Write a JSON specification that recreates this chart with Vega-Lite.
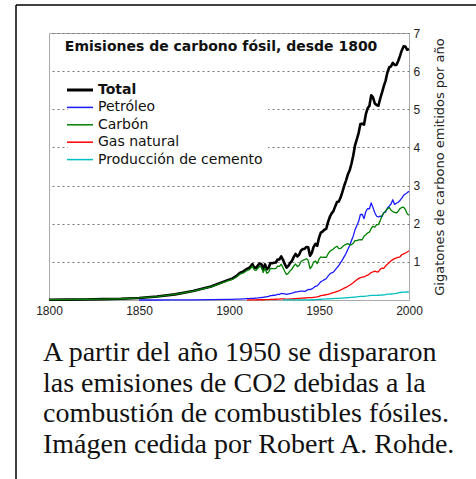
{
  "$schema": "https://vega.github.io/schema/vega-lite/v6.json",
  "width": 360,
  "height": 267,
  "autosize": {"type": "none"},
  "padding": {"left": 49, "top": 33, "right": 67, "bottom": 179},
  "background": "white",
  "config": {
    "view": {"stroke": "#aaaaaa", "strokeWidth": 1},
    "font": "DejaVu Sans"
  },
  "data": {"values": [
    {"year":1800,"Total":0.008,"Petróleo":null,"Carbón":0.008,"Gas natural":null,"Producción de cemento":null},
    {"year":1810,"Total":0.010,"Petróleo":null,"Carbón":0.010,"Gas natural":null,"Producción de cemento":null},
    {"year":1820,"Total":0.014,"Petróleo":null,"Carbón":0.014,"Gas natural":null,"Producción de cemento":null},
    {"year":1830,"Total":0.024,"Petróleo":null,"Carbón":0.024,"Gas natural":null,"Producción de cemento":null},
    {"year":1840,"Total":0.033,"Petróleo":null,"Carbón":0.033,"Gas natural":null,"Producción de cemento":null},
    {"year":1850,"Total":0.054,"Petróleo":0,"Carbón":0.054,"Gas natural":null,"Producción de cemento":null},
    {"year":1860,"Total":0.091,"Petróleo":0,"Carbón":0.091,"Gas natural":null,"Producción de cemento":null},
    {"year":1870,"Total":0.147,"Petróleo":0.001,"Carbón":0.146,"Gas natural":null,"Producción de cemento":null},
    {"year":1880,"Total":0.236,"Petróleo":0.003,"Carbón":0.233,"Gas natural":null,"Producción de cemento":null},
    {"year":1890,"Total":0.356,"Petróleo":0.009,"Carbón":0.345,"Gas natural":null,"Producción de cemento":null},
    {"year":1900,"Total":0.534,"Petróleo":0.016,"Carbón":0.515,"Gas natural":null,"Producción de cemento":null},
    {"year":1902,"Total":0.566,"Petróleo":0.019,"Carbón":0.543,"Gas natural":null,"Producción de cemento":null},
    {"year":1904,"Total":0.624,"Petróleo":0.023,"Carbón":0.596,"Gas natural":null,"Producción de cemento":null},
    {"year":1906,"Total":0.707,"Petróleo":0.025,"Carbón":0.676,"Gas natural":null,"Producción de cemento":null},
    {"year":1908,"Total":0.750,"Petróleo":0.032,"Carbón":0.711,"Gas natural":null,"Producción de cemento":null},
    {"year":1910,"Total":0.819,"Petróleo":0.036,"Carbón":0.775,"Gas natural":0.003,"Producción de cemento":null},
    {"year":1911,"Total":0.836,"Petróleo":0.038,"Carbón":0.789,"Gas natural":0.004,"Producción de cemento":null},
    {"year":1912,"Total":0.879,"Petróleo":0.041,"Carbón":0.828,"Gas natural":0.004,"Producción de cemento":null},
    {"year":1913,"Total":0.943,"Petróleo":0.045,"Carbón":0.886,"Gas natural":0.005,"Producción de cemento":null},
    {"year":1914,"Total":0.850,"Petróleo":0.046,"Carbón":0.792,"Gas natural":0.005,"Producción de cemento":null},
    {"year":1915,"Total":0.838,"Petróleo":0.050,"Carbón":0.776,"Gas natural":0.005,"Producción de cemento":null},
    {"year":1916,"Total":0.901,"Petróleo":0.055,"Carbón":0.833,"Gas natural":0.006,"Producción de cemento":null},
    {"year":1917,"Total":0.955,"Petróleo":0.062,"Carbón":0.879,"Gas natural":0.006,"Producción de cemento":null},
    {"year":1918,"Total":0.936,"Petróleo":0.065,"Carbón":0.857,"Gas natural":0.007,"Producción de cemento":null},
    {"year":1919,"Total":0.806,"Petróleo":0.070,"Carbón":0.722,"Gas natural":0.007,"Producción de cemento":null},
    {"year":1920,"Total":0.932,"Petróleo":0.082,"Carbón":0.832,"Gas natural":0.009,"Producción de cemento":null},
    {"year":1921,"Total":0.803,"Petróleo":0.085,"Carbón":0.700,"Gas natural":0.010,"Producción de cemento":null},
    {"year":1922,"Total":0.845,"Petróleo":0.095,"Carbón":0.731,"Gas natural":0.011,"Producción de cemento":null},
    {"year":1923,"Total":0.970,"Petróleo":0.115,"Carbón":0.831,"Gas natural":0.014,"Producción de cemento":null},
    {"year":1924,"Total":0.963,"Petróleo":0.118,"Carbón":0.820,"Gas natural":0.016,"Producción de cemento":null},
    {"year":1925,"Total":0.975,"Petróleo":0.125,"Carbón":0.824,"Gas natural":0.018,"Producción de cemento":null},
    {"year":1926,"Total":0.983,"Petróleo":0.130,"Carbón":0.825,"Gas natural":0.020,"Producción de cemento":null},
    {"year":1927,"Total":1.062,"Petróleo":0.145,"Carbón":0.887,"Gas natural":0.022,"Producción de cemento":null},
    {"year":1928,"Total":1.065,"Petróleo":0.150,"Carbón":0.882,"Gas natural":0.025,"Producción de cemento":null},
    {"year":1929,"Total":1.145,"Petróleo":0.170,"Carbón":0.936,"Gas natural":0.030,"Producción de cemento":null},
    {"year":1930,"Total":1.053,"Petróleo":0.165,"Carbón":0.848,"Gas natural":0.031,"Producción de cemento":0.002},
    {"year":1931,"Total":0.940,"Petróleo":0.160,"Carbón":0.747,"Gas natural":0.027,"Producción de cemento":0.002},
    {"year":1932,"Total":0.847,"Petróleo":0.150,"Carbón":0.667,"Gas natural":0.025,"Producción de cemento":0.002},
    {"year":1933,"Total":0.893,"Petróleo":0.160,"Carbón":0.702,"Gas natural":0.025,"Producción de cemento":0.002},
    {"year":1934,"Total":0.973,"Petróleo":0.170,"Carbón":0.770,"Gas natural":0.027,"Producción de cemento":0.003},
    {"year":1935,"Total":1.027,"Petróleo":0.180,"Carbón":0.810,"Gas natural":0.029,"Producción de cemento":0.003},
    {"year":1936,"Total":1.130,"Petróleo":0.195,"Carbón":0.893,"Gas natural":0.033,"Producción de cemento":0.004},
    {"year":1937,"Total":1.209,"Petróleo":0.215,"Carbón":0.944,"Gas natural":0.038,"Producción de cemento":0.004},
    {"year":1938,"Total":1.142,"Petróleo":0.215,"Carbón":0.875,"Gas natural":0.040,"Producción de cemento":0.005},
    {"year":1939,"Total":1.192,"Petróleo":0.225,"Carbón":0.913,"Gas natural":0.043,"Producción de cemento":0.005},
    {"year":1940,"Total":1.299,"Petróleo":0.230,"Carbón":1.011,"Gas natural":0.047,"Producción de cemento":0.005},
    {"year":1941,"Total":1.334,"Petróleo":0.235,"Carbón":1.039,"Gas natural":0.050,"Producción de cemento":0.005},
    {"year":1942,"Total":1.342,"Petróleo":0.225,"Carbón":1.056,"Gas natural":0.053,"Producción de cemento":0.005},
    {"year":1943,"Total":1.391,"Petróleo":0.245,"Carbón":1.082,"Gas natural":0.056,"Producción de cemento":0.004},
    {"year":1944,"Total":1.383,"Petróleo":0.275,"Carbón":1.041,"Gas natural":0.061,"Producción de cemento":0.004},
    {"year":1945,"Total":1.160,"Petróleo":0.270,"Carbón":0.821,"Gas natural":0.063,"Producción de cemento":0.004},
    {"year":1946,"Total":1.238,"Petróleo":0.290,"Carbón":0.878,"Gas natural":0.064,"Producción de cemento":0.006},
    {"year":1947,"Total":1.392,"Petróleo":0.320,"Carbón":0.993,"Gas natural":0.071,"Producción de cemento":0.008},
    {"year":1948,"Total":1.469,"Petróleo":0.360,"Carbón":1.023,"Gas natural":0.077,"Producción de cemento":0.009},
    {"year":1949,"Total":1.419,"Petróleo":0.370,"Carbón":0.954,"Gas natural":0.083,"Producción de cemento":0.010},
    {"year":1950,"Total":1.630,"Petróleo":0.423,"Carbón":1.070,"Gas natural":0.097,"Producción de cemento":0.018},
    {"year":1951,"Total":1.767,"Petróleo":0.479,"Carbón":1.129,"Gas natural":0.115,"Producción de cemento":0.020},
    {"year":1952,"Total":1.795,"Petróleo":0.504,"Carbón":1.119,"Gas natural":0.124,"Producción de cemento":0.022},
    {"year":1953,"Total":1.841,"Petróleo":0.533,"Carbón":1.125,"Gas natural":0.131,"Producción de cemento":0.024},
    {"year":1954,"Total":1.865,"Petróleo":0.557,"Carbón":1.116,"Gas natural":0.138,"Producción de cemento":0.027},
    {"year":1955,"Total":2.042,"Petróleo":0.625,"Carbón":1.208,"Gas natural":0.150,"Producción de cemento":0.030},
    {"year":1956,"Total":2.177,"Petróleo":0.679,"Carbón":1.273,"Gas natural":0.161,"Producción de cemento":0.032},
    {"year":1957,"Total":2.270,"Petróleo":0.714,"Carbón":1.309,"Gas natural":0.178,"Producción de cemento":0.034},
    {"year":1958,"Total":2.330,"Petróleo":0.731,"Carbón":1.336,"Gas natural":0.192,"Producción de cemento":0.036},
    {"year":1959,"Total":2.454,"Petróleo":0.789,"Carbón":1.382,"Gas natural":0.206,"Producción de cemento":0.040},
    {"year":1960,"Total":2.569,"Petróleo":0.849,"Carbón":1.410,"Gas natural":0.227,"Producción de cemento":0.043},
    {"year":1961,"Total":2.580,"Petróleo":0.904,"Carbón":1.349,"Gas natural":0.240,"Producción de cemento":0.045},
    {"year":1962,"Total":2.686,"Petróleo":0.980,"Carbón":1.351,"Gas natural":0.263,"Producción de cemento":0.049},
    {"year":1963,"Total":2.833,"Petróleo":1.052,"Carbón":1.396,"Gas natural":0.286,"Producción de cemento":0.051},
    {"year":1964,"Total":2.995,"Petróleo":1.137,"Carbón":1.435,"Gas natural":0.311,"Producción de cemento":0.057},
    {"year":1965,"Total":3.130,"Petróleo":1.219,"Carbón":1.460,"Gas natural":0.331,"Producción de cemento":0.059},
    {"year":1966,"Total":3.288,"Petróleo":1.323,"Carbón":1.478,"Gas natural":0.361,"Producción de cemento":0.063},
    {"year":1967,"Total":3.393,"Petróleo":1.423,"Carbón":1.448,"Gas natural":0.385,"Producción de cemento":0.065},
    {"year":1968,"Total":3.566,"Petróleo":1.551,"Carbón":1.448,"Gas natural":0.419,"Producción de cemento":0.070},
    {"year":1969,"Total":3.780,"Petróleo":1.673,"Carbón":1.486,"Gas natural":0.455,"Producción de cemento":0.074},
    {"year":1970,"Total":4.053,"Petróleo":1.839,"Carbón":1.556,"Gas natural":0.493,"Producción de cemento":0.078},
    {"year":1971,"Total":4.208,"Petróleo":1.947,"Carbón":1.559,"Gas natural":0.530,"Producción de cemento":0.084},
    {"year":1972,"Total":4.376,"Petróleo":2.057,"Carbón":1.576,"Gas natural":0.560,"Producción de cemento":0.089},
    {"year":1973,"Total":4.614,"Petróleo":2.241,"Carbón":1.581,"Gas natural":0.588,"Producción de cemento":0.095},
    {"year":1974,"Total":4.623,"Petróleo":2.245,"Carbón":1.579,"Gas natural":0.597,"Producción de cemento":0.096},
    {"year":1975,"Total":4.596,"Petróleo":2.132,"Carbón":1.673,"Gas natural":0.604,"Producción de cemento":0.095},
    {"year":1976,"Total":4.864,"Petróleo":2.314,"Carbón":1.710,"Gas natural":0.630,"Producción de cemento":0.103},
    {"year":1977,"Total":5.026,"Petróleo":2.398,"Carbón":1.756,"Gas natural":0.650,"Producción de cemento":0.108},
    {"year":1978,"Total":5.087,"Petróleo":2.392,"Carbón":1.780,"Gas natural":0.680,"Producción de cemento":0.116},
    {"year":1979,"Total":5.369,"Petróleo":2.544,"Carbón":1.875,"Gas natural":0.721,"Producción de cemento":0.119},
    {"year":1980,"Total":5.315,"Petróleo":2.422,"Carbón":1.935,"Gas natural":0.737,"Producción de cemento":0.120},
    {"year":1981,"Total":5.152,"Petróleo":2.289,"Carbón":1.908,"Gas natural":0.755,"Producción de cemento":0.121},
    {"year":1982,"Total":5.113,"Petróleo":2.196,"Carbón":1.976,"Gas natural":0.738,"Producción de cemento":0.121},
    {"year":1983,"Total":5.094,"Petróleo":2.176,"Carbón":1.977,"Gas natural":0.739,"Producción de cemento":0.125},
    {"year":1984,"Total":5.280,"Petróleo":2.199,"Carbón":2.074,"Gas natural":0.807,"Producción de cemento":0.128},
    {"year":1985,"Total":5.439,"Petróleo":2.186,"Carbón":2.216,"Gas natural":0.835,"Producción de cemento":0.131},
    {"year":1986,"Total":5.607,"Petróleo":2.293,"Carbón":2.277,"Gas natural":0.830,"Producción de cemento":0.137},
    {"year":1987,"Total":5.752,"Petróleo":2.306,"Carbón":2.339,"Gas natural":0.892,"Producción de cemento":0.143},
    {"year":1988,"Total":5.965,"Petróleo":2.412,"Carbón":2.387,"Gas natural":0.935,"Producción de cemento":0.152},
    {"year":1989,"Total":6.097,"Petróleo":2.459,"Carbón":2.428,"Gas natural":0.982,"Producción de cemento":0.156},
    {"year":1990,"Total":6.127,"Petróleo":2.517,"Carbón":2.356,"Gas natural":1.026,"Producción de cemento":0.157},
    {"year":1991,"Total":6.217,"Petróleo":2.627,"Carbón":2.317,"Gas natural":1.058,"Producción de cemento":0.161},
    {"year":1992,"Total":6.164,"Petróleo":2.506,"Carbón":2.300,"Gas natural":1.083,"Producción de cemento":0.167},
    {"year":1993,"Total":6.162,"Petróleo":2.537,"Carbón":2.282,"Gas natural":1.102,"Producción de cemento":0.176},
    {"year":1994,"Total":6.266,"Petróleo":2.562,"Carbón":2.329,"Gas natural":1.119,"Producción de cemento":0.186},
    {"year":1995,"Total":6.398,"Petróleo":2.609,"Carbón":2.396,"Gas natural":1.133,"Producción de cemento":0.197},
    {"year":1996,"Total":6.542,"Petróleo":2.673,"Carbón":2.426,"Gas natural":1.186,"Producción de cemento":0.203},
    {"year":1997,"Total":6.651,"Petróleo":2.744,"Carbón":2.437,"Gas natural":1.211,"Producción de cemento":0.205},
    {"year":1998,"Total":6.643,"Petróleo":2.779,"Carbón":2.371,"Gas natural":1.233,"Producción de cemento":0.205},
    {"year":1999,"Total":6.560,"Petróleo":2.810,"Carbón":2.260,"Gas natural":1.260,"Producción de cemento":0.210},
    {"year":2000,"Total":6.580,"Petróleo":2.850,"Carbón":2.220,"Gas natural":1.290,"Producción de cemento":0.215}
  ]},
  "layer": [
    {
      "transform": [{"fold": ["Total", "Petróleo", "Carbón", "Gas natural", "Producción de cemento"], "as": ["series", "value"]}],
      "mark": {"type": "line", "strokeJoin": "round", "strokeCap": "butt"},
      "encoding": {
        "x": {
          "field": "year", "type": "quantitative",
          "scale": {"domain": [1800, 2000], "nice": false, "zero": false},
          "axis": {
            "orient": "bottom", "values": [1800, 1850, 1900, 1950, 2000], "format": "d",
            "title": null, "grid": false, "ticks": false, "domain": false,
            "labelFont": "Liberation Sans", "labelFontSize": 12, "labelColor": "#222222",
            "labelPadding": 5, "labelFlush": false
          }
        },
        "y": {
          "field": "value", "type": "quantitative",
          "scale": {"domain": [0, 7], "nice": false},
          "axis": {
            "orient": "right", "values": [1, 2, 3, 4, 5, 6, 7],
            "grid": true, "gridDash": [2, 3], "gridColor": "#777777", "gridWidth": 1,
            "ticks": false, "domain": false,
            "labelFont": "Liberation Sans", "labelFontSize": 12, "labelColor": "#222222",
            "labelPadding": 4, "labelFlush": false,
            "title": "Gigatones de carbono emitidos por año",
            "titleFont": "DejaVu Sans", "titleFontSize": 13, "titleFontWeight": "normal",
            "titleColor": "#222222", "titleAngle": 270, "titleBaseline": "top",
            "titlePadding": 14
          }
        },
        "color": {
          "field": "series", "type": "nominal",
          "scale": {
            "domain": ["Total", "Petróleo", "Carbón", "Gas natural", "Producción de cemento"],
            "range": ["#000000", "#1a1aff", "#008000", "#ff0000", "#00bfbf"]
          },
          "legend": {
            "title": null,
            "orient": "none",
            "legendX": 19,
            "legendY": 45,
            "padding": 5,
            "fillColor": "white",
            "symbolType": "stroke",
            "symbolSize": 676,
            "symbolStrokeWidth": 1.5,
            "labelFont": "DejaVu Sans",
            "labelFontSize": 14,
            "labelColor": "#111111",
            "labelOffset": 11,
            "labelLimit": 300,
            "rowPadding": 3.4,
            "encode": {
              "labels": {"update": {"fontWeight": {"signal": "datum.label === 'Total' ? 'bold' : 'normal'"}}},
              "symbols": {"update": {"strokeWidth": {"signal": "datum.label === 'Total' ? 3 : 1.5"}}}
            }
          }
        },
        "strokeWidth": {"condition": {"test": "datum.series === 'Total'", "value": 2.6}, "value": 1.3},
        "order": {"field": "year", "type": "quantitative"}
      }
    },
    {
      "data": {"values": [{}]},
      "mark": {"type": "text", "font": "DejaVu Sans", "fontWeight": "bold", "fontSize": 14, "align": "center", "baseline": "middle", "color": "#111111", "clip": false},
      "encoding": {
        "x": {"datum": 1895.6},
        "y": {"datum": 6.63},
        "text": {"value": "Emisiones de carbono fósil, desde  1800"}
      }
    },
    {
      "data": {"values": [{}]},
      "mark": {"type": "text", "font": "Liberation Serif", "fontSize": 28, "lineHeight": 30.5, "align": "left", "baseline": "alphabetic", "color": "#111111", "clip": false},
      "encoding": {
        "x": {"datum": 1796.67},
        "y": {"datum": -1.6},
        "text": {"value": ["A partir del año 1950 se dispararon", "las emisiones de CO2 debidas a la", "combustión de combustibles fósiles.", "Imágen cedida por Robert A. Rohde."]}
      }
    },
    {
      "data": {"values": [{}]},
      "mark": {"type": "rule", "color": "black", "strokeWidth": 1.5, "clip": false},
      "encoding": {
        "x": {"datum": 1781.67},
        "y": {"datum": -5},
        "y2": {"datum": 7.734}
      }
    },
    {
      "data": {"values": [{}]},
      "mark": {"type": "rule", "color": "black", "strokeWidth": 1.5, "clip": false},
      "encoding": {
        "x": {"datum": 1781.67},
        "x2": {"datum": 2050},
        "y": {"datum": 7.734}
      }
    }
  ]
}
